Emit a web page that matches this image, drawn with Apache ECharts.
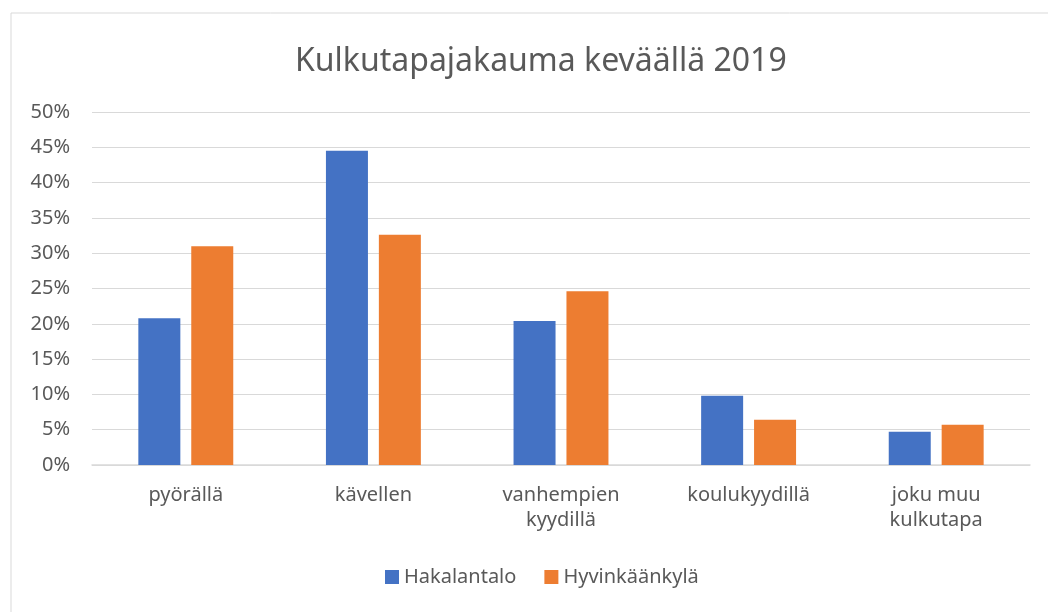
<!DOCTYPE html>
<html>
<head>
<meta charset="utf-8">
<script src="https://cdn.jsdelivr.net/npm/echarts@6/dist/echarts.min.js"></script>
<style>
  html, body { margin: 0; padding: 0; background: #fff; }
  #chart { width: 1048px; height: 612px; }
</style>
</head>
<body>
<div id="chart"></div>
<script>
// kategoriat ja arvot (%)
const categories = ['pyörällä', 'kävellen', 'vanhempien\nkyydillä', 'koulukyydillä', 'joku muu\nkulkutapa']
const hakalantalo = [20.8, 44.5, 20.4, 9.8, 4.7]
const hyvinkaankyla = [31.0, 32.6, 24.6, 6.4, 5.7]
const seriesNames = ['Hakalantalo', 'Hyvinkäänkylä']

const textColor = '#595959'
const fontFamily = '"Noto Sans", sans-serif'

const chart = echarts.init(document.getElementById('chart'))

chart.setOption({
  animation: false,
  textStyle: { fontFamily },
  graphic: [{
    type: 'rect',
    shape: { x: 11, y: 13, width: 1100, height: 700 },
    style: { fill: 'none', stroke: '#d9d9d9', lineWidth: 1 },
    silent: true
  }],
  title: {
    text: 'Kulkutapajakauma keväällä 2019',
    left: 290,
    top: 41,
    textStyle: { color: textColor, fontSize: 32, fontWeight: 'normal', fontFamily }
  },
  legend: {
    data: seriesNames,
    bottom: 20,
    left: 380,
    itemWidth: 14,
    itemHeight: 14,
    itemGap: 28,
    icon: 'rect',
    textStyle: { color: textColor, fontSize: 20, fontFamily }
  },
  grid: { left: 92, right: 18, top: 112, bottom: 147 },
  xAxis: {
    type: 'category',
    data: categories,
    axisLine: { lineStyle: { color: '#d9d9d9', width: 1.5 } },
    axisTick: { show: false },
    axisLabel: { color: textColor, fontSize: 20, margin: 18, lineHeight: 25, fontFamily }
  },
  yAxis: {
    type: 'value',
    min: 0,
    max: 50,
    interval: 5,
    axisLine: { show: false },
    axisTick: { show: false },
    splitLine: { lineStyle: { color: '#d9d9d9', width: 1 } },
    axisLabel: { color: textColor, fontSize: 20, margin: 22, formatter: '{value}%', fontFamily }
  },
  series: [
    {
      name: seriesNames[0],
      type: 'bar',
      data: hakalantalo,
      barWidth: 42,
      barGap: '26%',
      itemStyle: { color: '#4472c4' }
    },
    {
      name: seriesNames[1],
      type: 'bar',
      data: hyvinkaankyla,
      barWidth: 42,
      itemStyle: { color: '#ed7d31' }
    }
  ]
})
</script>
</body>
</html>
